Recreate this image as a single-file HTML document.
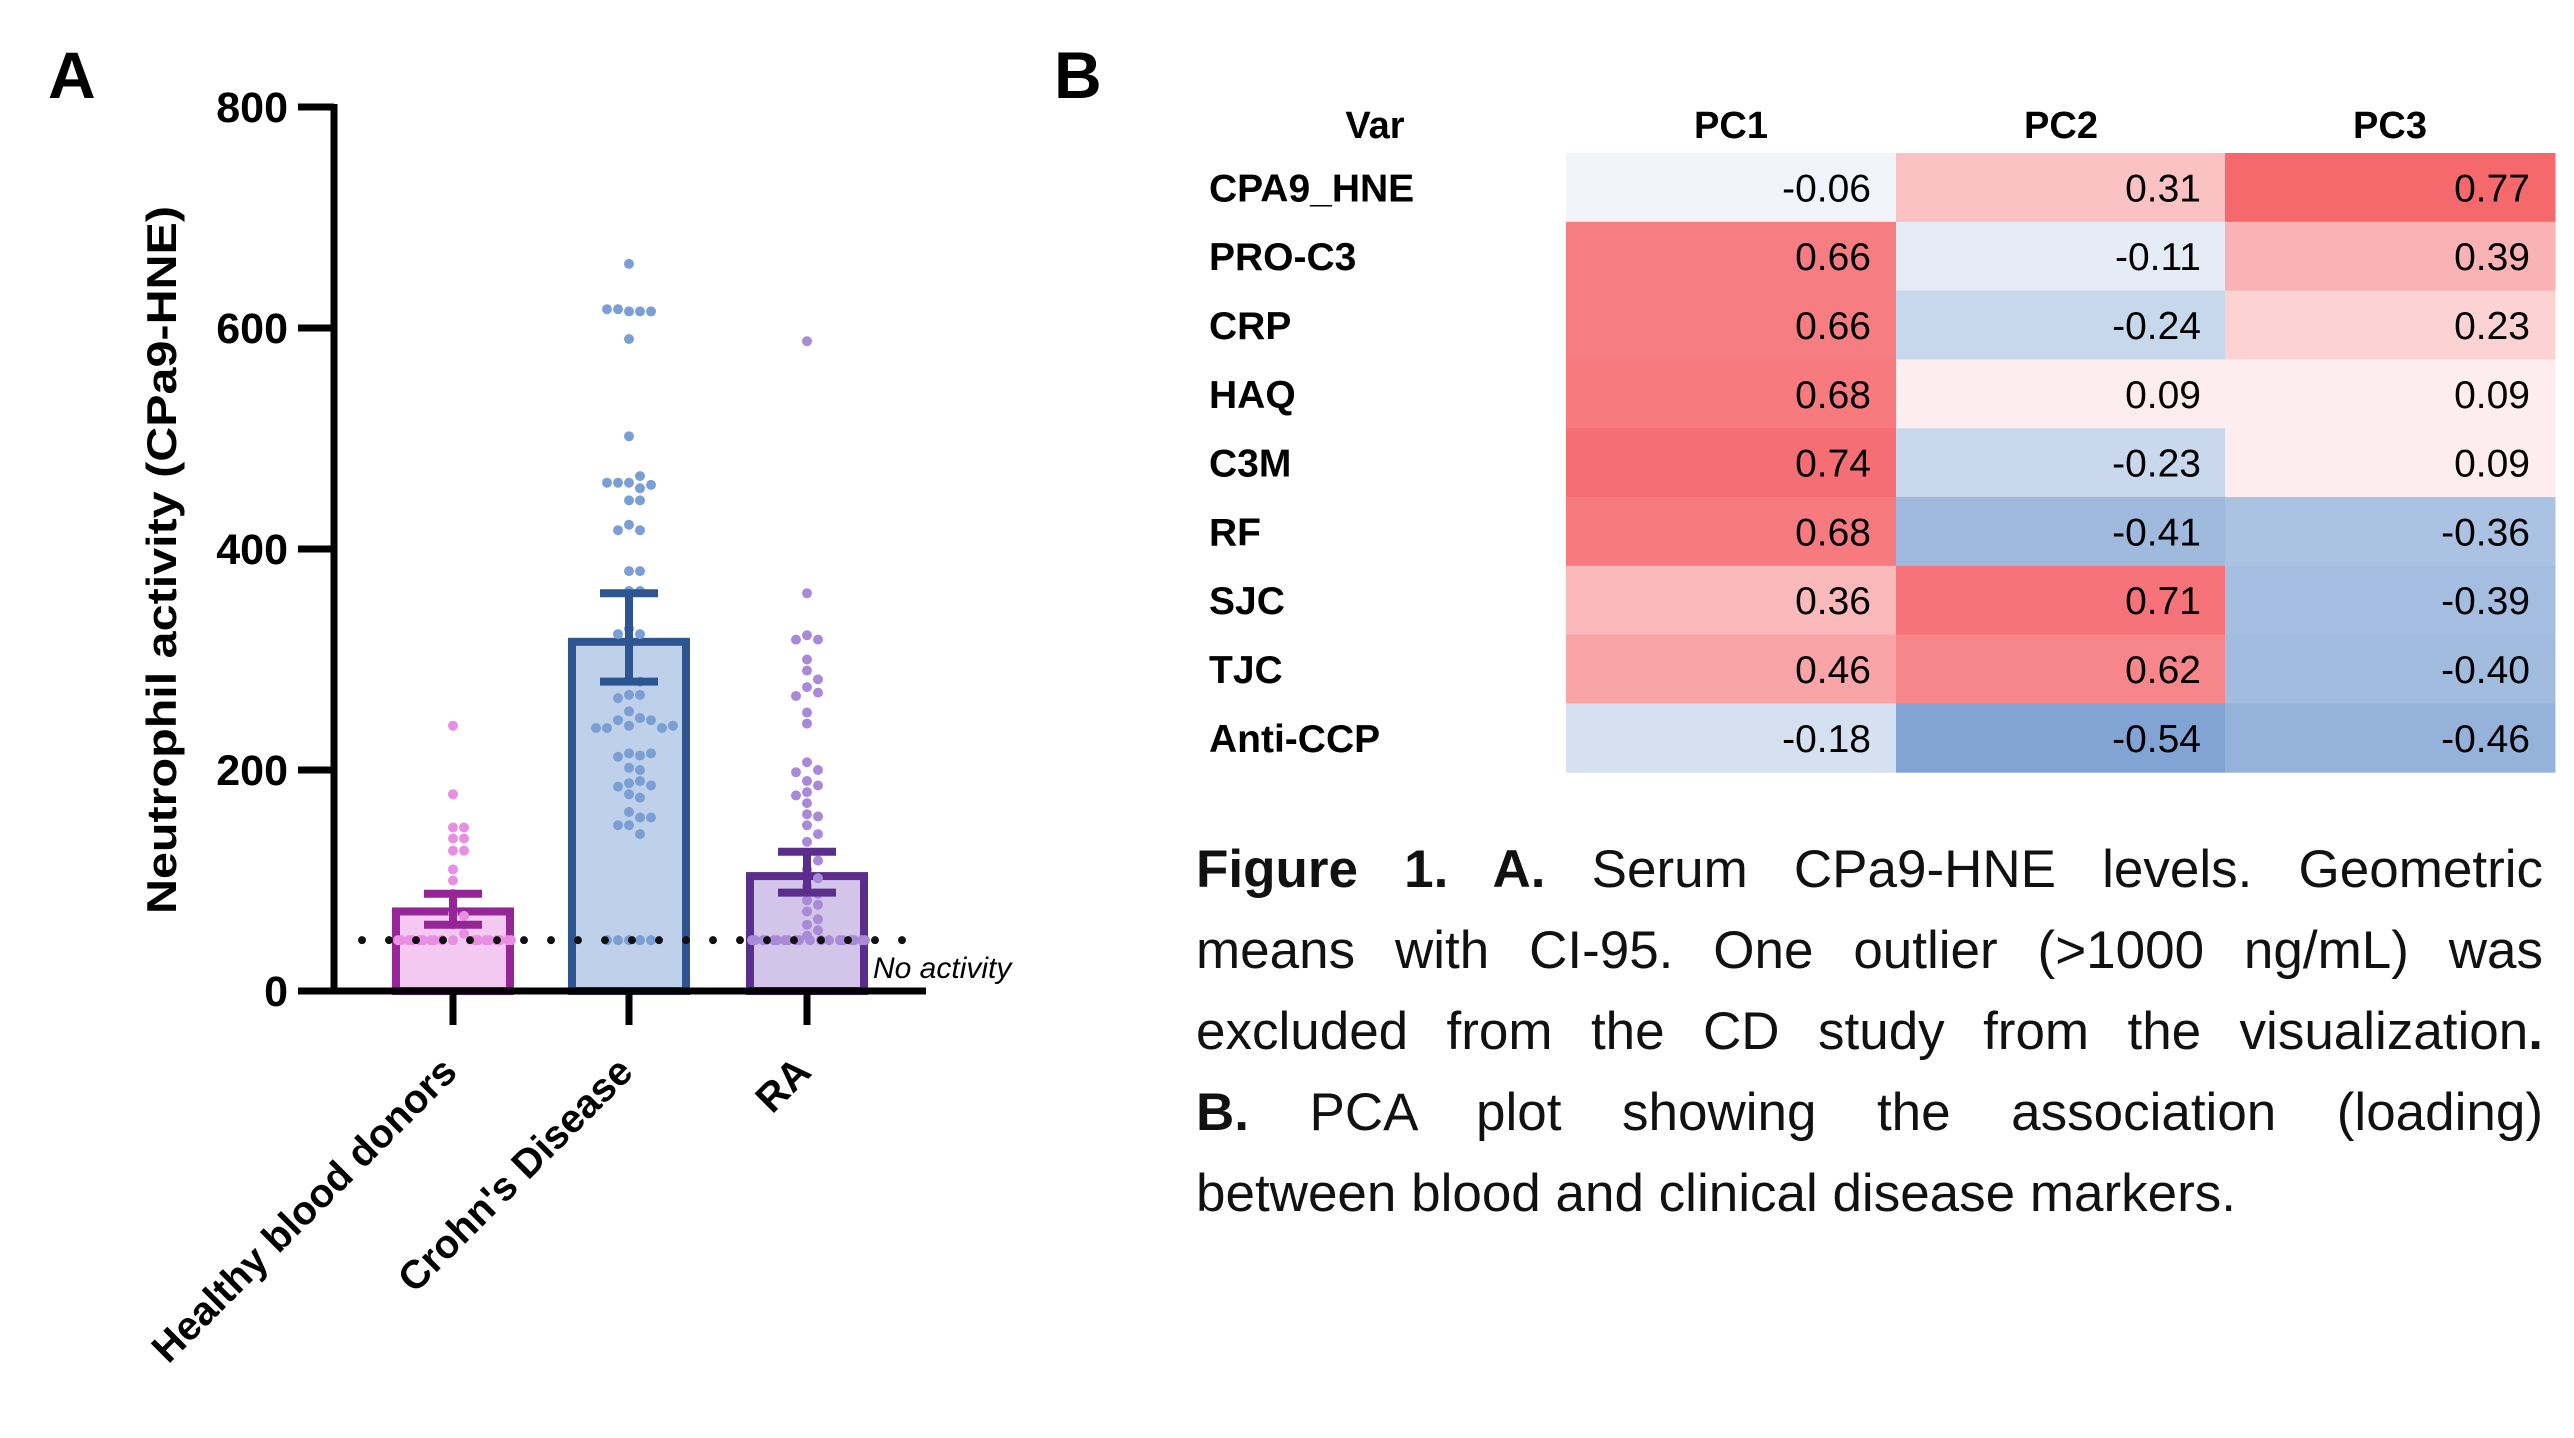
<!DOCTYPE html>
<html><head><meta charset="utf-8"><style>
html,body{margin:0;padding:0;background:#fff;}
#wrap{position:relative;width:2574px;height:1438px;overflow:hidden;font-family:"Liberation Sans",sans-serif;}
.cap{position:absolute;left:1196px;width:1347px;font-size:53px;line-height:81px;color:#111;white-space:nowrap;}
.j{text-align:justify;text-align-last:justify;white-space:normal;}
</style></head><body>
<div id="wrap">
<svg id="svg" width="2574" height="1438" xmlns="http://www.w3.org/2000/svg" style="position:absolute;left:0;top:0">
<text x="48" y="98" font-family="Liberation Sans" font-weight="bold" font-size="66">A</text>
<text x="1054" y="98" font-family="Liberation Sans" font-weight="bold" font-size="66">B</text>
<g id="chartA"></g>
<g id="heat"></g>
</svg>
<div class="cap j" style="top:829px"><b>Figure 1. A.</b> Serum CPa9-HNE levels. Geometric</div>
<div class="cap j" style="top:910px">means with CI-95. One outlier (&gt;1000 ng/mL) was</div>
<div class="cap j" style="top:991px">excluded from the CD study from the visualization<b>.</b></div>
<div class="cap j" style="top:1072px"><b>B.</b> PCA plot showing the association (loading)</div>
<div class="cap" style="top:1153px">between blood and clinical disease markers.</div>
</div>
<script>
const NS="http://www.w3.org/2000/svg";
// ---- Chart A data ----
const categories=["Healthy blood donors","Crohn's Disease","RA"];
const geoMeans=[72,316,104];
const ciLow=[60,280,89];
const ciHigh=[88,360,126];
const yTicks=[0,200,400,600,800];
const noActivity=46;
const healthyVals=[240,178,148,148,138,138,127,127,110,100,88,70,68,60,52,46,46,46,46,46,46,46,46,46,46,46,46,46,46,46,46,46,46];
const crohnVals=[658,615,615,617,615,617,590,502,460,466,460,455,458,460,444,444,422,417,417,380,380,362,362,328,323,323,282,280,268,268,265,253,247,245,245,240,238,238,238,240,215,213,212,215,202,200,188,190,185,186,178,175,162,157,150,150,157,142,46,46,46,46,46];
const raVals=[588,360,322,318,318,300,290,282,275,270,267,252,242,207,200,198,190,186,180,177,170,160,158,150,142,135,125,118,110,102,95,88,82,78,72,65,60,55,50,46,46,46,46,46,46,46,46,46,46,46,46,46,46,46,46,46,46,46];
const groupVals=[healthyVals,crohnVals,raVals];
// ---- heatmap data ----
const vars=["CPA9_HNE","PRO-C3","CRP","HAQ","C3M","RF","SJC","TJC","Anti-CCP"];
const pcs=["PC1","PC2","PC3"];
const pc1=[-0.06,0.66,0.66,0.68,0.74,0.68,0.36,0.46,-0.18];
const pc2=[0.31,-0.11,-0.24,0.09,-0.23,-0.41,0.71,0.62,-0.54];
const pc3=[0.77,0.39,0.23,0.09,0.09,-0.36,-0.39,-0.40,-0.46];
const pcVals=[pc1,pc2,pc3];

function mk(tag,attrs,parent,text){const e=document.createElementNS(NS,tag);for(const k in attrs)e.setAttribute(k,attrs[k]);if(text!==undefined)e.textContent=text;parent.appendChild(e);return e;}

const A=document.getElementById('chartA');
const y0=991,yTop=107,axX=334,axEnd=926;
const yS=v=>y0-(v/800)*(y0-yTop);
const xC=[453,629,807];
const barW=114;
const fills=["#f3c8f1","#bfd1ea","#d3c5e9"];
const strokes=["#962597","#2c5592","#5b2e8e"];
const dotC=["#e88ee3","#7b9fd5","#a98ad7"];

// bars
categories.forEach((c,i)=>{
 const r=mk('rect',{x:xC[i]-barW/2,y:yS(geoMeans[i]),width:barW,height:y0-yS(geoMeans[i]),fill:fills[i],stroke:strokes[i],'stroke-width':8},A);
 
 
});
// dots (swarm confined to bar width)
groupVals.forEach((vals,i)=>{
 const placed=[];const d=11;const maxK=10;
 vals.forEach((v,n)=>{
  const y=yS(v);let x=null;
  for(let k=0;k<=maxK;k++){const off=(k%2?1:-1)*Math.ceil(k/2)*d;const cx=xC[i]+off;
   if(!placed.some(p=>Math.hypot(p[0]-cx,p[1]-y)<d-1)){x=cx;break;}}
  if(x===null){const k=n%(maxK+1);x=xC[i]+(k%2?1:-1)*Math.ceil(k/2)*d+3;}
  placed.push([x,y]);
  const c=mk('circle',{cx:x,cy:y,r:5,fill:dotC[i]},A);
  
  
 });
});
// dotted line
const dl=mk('line',{x1:362,x2:922,y1:yS(noActivity),y2:yS(noActivity),stroke:'#111','stroke-width':8,'stroke-linecap':'round','stroke-dasharray':'0 27'},A);


const na=mk('text',{x:873,y:978,'font-size':30,'font-style':'italic','font-family':'Liberation Sans'},A,'No activity');


// error bars
categories.forEach((c,i)=>{
 const g=mk('g',{stroke:strokes[i],'stroke-width':8},A);
 
 
 mk('line',{x1:xC[i],x2:xC[i],y1:yS(ciLow[i]),y2:yS(ciHigh[i])},g);
 mk('line',{x1:xC[i]-29,x2:xC[i]+29,y1:yS(ciLow[i]),y2:yS(ciLow[i])},g);
 mk('line',{x1:xC[i]-29,x2:xC[i]+29,y1:yS(ciHigh[i]),y2:yS(ciHigh[i])},g);
});
// axes
const ax=mk('g',{stroke:'#000','stroke-width':7},A);


mk('line',{x1:axX,x2:axX,y1:yTop-3,y2:y0+3},ax);
mk('line',{x1:axX-3,x2:axEnd,y1:y0,y2:y0},ax);
yTicks.forEach(t=>{
 mk('line',{x1:298,x2:axX,y1:yS(t),y2:yS(t)},ax);
 const tl=mk('text',{x:288,y:yS(t)+15,'text-anchor':'end','font-size':43,'font-weight':'bold','font-family':'Liberation Sans'},A,String(t));
 
 
});
categories.forEach((c,i)=>{
 mk('line',{x1:xC[i],x2:xC[i],y1:y0,y2:1025},ax);
 const t=mk('text',{x:0,y:0,'text-anchor':'end','font-size':40,'font-weight':'bold','font-family':'Liberation Sans',transform:`translate(${xC[i]+6},${1074}) rotate(-45)`},A,c);
 
 
});
const yt=mk('text',{x:0,y:0,'text-anchor':'middle','font-size':42,'font-weight':'bold','font-family':'Liberation Sans',textLength:708,lengthAdjust:'spacingAndGlyphs',transform:'translate(176,560) rotate(-90)'},A,'Neutrophil activity (CPa9-HNE)');



// ---- heatmap ----
const H=document.getElementById('heat');
const colX=[1566,1896,2225],cw=330,rowTop=153,rh=68.8;
function col(v){
 let t,e;
 if(v>=0){t=Math.min(v/0.85,1);e=[244,89,94];} else {t=Math.min(-v/0.6,1);e=[116,154,207];}
 const c=e.map(x=>Math.round(255+(x-255)*t));return `rgb(${c[0]},${c[1]},${c[2]})`;
}
const vh=mk('text',{x:1375,y:138,'text-anchor':'middle','font-size':38,'font-weight':'bold','font-family':'Liberation Sans'},H,'Var');


pcs.forEach((p,j)=>{
 const t=mk('text',{x:colX[j]+cw/2,y:138,'text-anchor':'middle','font-size':38,'font-weight':'bold','font-family':'Liberation Sans'},H,p);
 
 
});
vars.forEach((vn,i)=>{
 const y=rowTop+i*rh;
 const l=mk('text',{x:1209,y:y+rh/2+14,'font-size':39,'font-weight':'bold','font-family':'Liberation Sans'},H,vn);
 
 
 pcVals.forEach((arr,j)=>{
  const v=arr[i];
  const r=mk('rect',{x:colX[j],y:y,width:cw+0.5,height:rh+0.5,fill:col(v)},H);
  
  
  const t=mk('text',{x:colX[j]+cw-25,y:y+rh/2+14,'text-anchor':'end','font-size':39,'font-family':'Liberation Sans'},H,v.toFixed(2));
  
  
 });
});
</script>
</body></html>
